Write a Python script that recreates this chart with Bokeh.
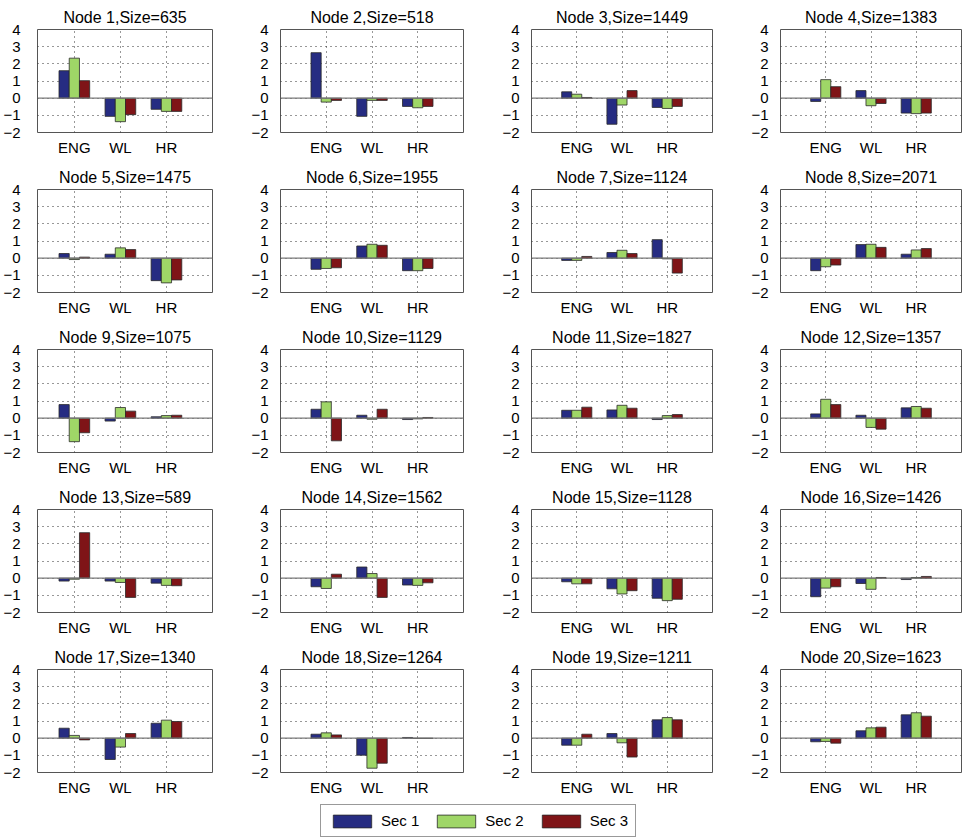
import numpy as np
from bokeh.plotting import figure
from bokeh.models import (ColumnDataSource, Range1d, FixedTicker, Span, Legend, LegendItem)
from bokeh.transform import dodge
from bokeh.layouts import column, row
from bokeh.embed import file_html
from bokeh.resources import INLINE

categories = ["ENG", "WL", "HR"]
series_names = ["Sec 1", "Sec 2", "Sec 3"]
series_colors = ["#262c82", "#9fd667", "#7f1417"]
node_sizes = [635, 518, 1449, 1383, 1475, 1955, 1124, 2071, 1075, 1129,
              1827, 1357, 589, 1562, 1128, 1426, 1340, 1264, 1211, 1623]
y_ticks = [-2, -1, 0, 1, 2, 3, 4]

# values per node: [ENG, WL, HR]
sec1 = [
    [1.60, -1.06, -0.65], [2.65, -1.06, -0.48], [0.37, -1.52, -0.54], [-0.19, 0.44, -0.87],
    [0.27, 0.23, -1.31], [-0.65, 0.71, -0.73], [-0.13, 0.33, 1.08], [-0.73, 0.79, 0.23],
    [0.79, -0.17, 0.08], [0.52, 0.17, -0.08], [0.46, 0.48, -0.08], [0.25, 0.17, 0.60],
    [-0.17, -0.17, -0.29], [-0.50, 0.65, -0.40], [-0.21, -0.62, -1.17], [-1.08, -0.31, -0.08],
    [0.58, -1.24, 0.87], [0.23, -0.99, 0.04], [-0.41, 0.27, 1.07], [-0.21, 0.43, 1.36],
]
sec2 = [
    [2.33, -1.37, -0.77], [-0.23, -0.13, -0.56], [0.23, -0.40, -0.60], [1.08, -0.44, -0.90],
    [-0.08, 0.60, -1.44], [-0.60, 0.81, -0.73], [-0.13, 0.46, -0.04], [-0.50, 0.81, 0.48],
    [-1.37, 0.62, 0.15], [0.95, -0.06, -0.04], [0.46, 0.75, 0.15], [1.10, -0.54, 0.68],
    [-0.06, -0.25, -0.42], [-0.60, 0.27, -0.42], [-0.33, -0.92, -1.31], [-0.58, -0.65, 0.04],
    [0.16, -0.52, 1.05], [0.31, -1.75, -0.02], [-0.41, -0.27, 1.20], [-0.19, 0.60, 1.48],
]
sec3 = [
    [1.02, -0.96, -0.77], [-0.13, -0.13, -0.48], [0.04, 0.44, -0.48], [0.67, -0.31, -0.87],
    [0.06, 0.50, -1.27], [-0.56, 0.75, -0.60], [0.10, 0.27, -0.87], [-0.40, 0.63, 0.56],
    [-0.85, 0.41, 0.17], [-1.32, 0.52, 0.04], [0.64, 0.58, 0.21], [0.79, -0.64, 0.58],
    [2.65, -1.12, -0.44], [0.23, -1.12, -0.27], [-0.33, -0.73, -1.23], [-0.50, 0.04, 0.10],
    [-0.10, 0.27, 0.97], [0.19, -1.46, -0.02], [0.23, -1.10, 1.07], [-0.29, 0.64, 1.28],
]

FONT = "Liberation Sans"
BAR_W = 0.222
OFFSETS = [-BAR_W, 0.0, BAR_W]

# column geometry (pixels)
col_widths = [248, 251, 249, 214]
col_left = [32, 24, 24, 24]
col_frames = [180, 191, 189, 189]
col_xstart = [0.2, 0.0, 0.0, 0.0]
FIG_H = 160
TOP, FRAME_H = 29, 103
BOTTOM = FIG_H - TOP - FRAME_H

xpos = np.arange(1, len(categories) + 1)


def make_panel(i):
    c = i % 4
    w = col_widths[c]
    p = figure(width=w, height=FIG_H, output_backend="svg", toolbar_location=None,
               x_range=Range1d(col_xstart[c], 4), y_range=Range1d(-2, 4),
               min_border_left=col_left[c], min_border_right=w - col_left[c] - col_frames[c],
               min_border_top=TOP, min_border_bottom=BOTTOM)
    p.title.text = f"Node {i + 1},Size={node_sizes[i]}"
    p.title.align = "center"
    p.title.vertical_align = "top"
    p.title.text_font = FONT
    p.title.text_font_size = "16px"
    p.title.text_font_style = "normal"
    p.title.text_color = "#000000"
    p.title.standoff = 4

    src = ColumnDataSource(dict(x=xpos, s1=sec1[i], s2=sec2[i], s3=sec3[i]))
    for k, key in enumerate(["s1", "s2", "s3"]):
        p.vbar(x=dodge("x", OFFSETS[k], range=p.x_range), top=key, bottom=0,
               width=BAR_W, source=src, fill_color=series_colors[k],
               line_color="#2a2a2a", line_width=0.8)

    p.add_layout(Span(location=0, dimension="width", line_color="#7a7a7a", line_width=1.2))

    xt = FixedTicker(ticks=list(xpos))
    yt = FixedTicker(ticks=y_ticks)
    p.xaxis.ticker = xt
    p.xaxis.major_label_overrides = {int(v): lab for v, lab in zip(xpos, categories)}
    p.yaxis.ticker = yt
    p.xgrid.ticker = xt
    p.ygrid.ticker = yt
    for ax in p.axis:
        ax.axis_line_color = None
        ax.major_tick_line_color = None
        ax.minor_tick_line_color = None
        ax.major_label_text_font = FONT
        ax.major_label_text_font_size = "15px"
        ax.major_label_text_color = "#000000"
    p.xaxis.major_label_standoff = 0
    p.yaxis.major_label_standoff = 11 if c == 0 else 6

    for g in p.grid:
        g.grid_line_color = "#303030"
        g.grid_line_alpha = 1.0
        g.grid_line_dash = "1 4"
        g.grid_line_width = 1
    p.outline_line_color = "#555555"
    p.outline_line_width = 1
    p.background_fill_color = "white"
    p.border_fill_color = "white"
    return p


rows = []
for r in range(5):
    rows.append(row(*[make_panel(r * 4 + c) for c in range(4)]))

# legend figure: swatch renderers are hidden, only their legend entries are drawn
lf = figure(width=962, height=38, output_backend="svg", toolbar_location=None,
            x_range=Range1d(0, 1), y_range=Range1d(0, 1),
            min_border_left=0, min_border_right=0, min_border_top=0, min_border_bottom=0)
lf.axis.visible = False
lf.grid.visible = False
lf.outline_line_color = None
items = []
for k, name in enumerate(series_names):
    rr = lf.vbar(x=[0.5], top=[1], bottom=[0], width=0.1, fill_color=series_colors[k],
                 line_color="#2a2a2a", line_width=0.8, visible=False)
    items.append(LegendItem(label=name, renderers=[rr]))
leg = Legend(items=items, orientation="horizontal", location=(320, 1),
             glyph_width=48, glyph_height=16, label_height=16, label_standoff=5,
             spacing=13, padding=7, margin=0,
             label_text_font=FONT, label_text_font_size="15px", label_text_color="#000000",
             border_line_color="#333333", border_line_width=1,
             background_fill_color="white", background_fill_alpha=1,
             inactive_fill_alpha=0.0)
lf.add_layout(leg)

layout = column(*rows, lf)

open("out.html", "w").write(file_html(layout, INLINE))
